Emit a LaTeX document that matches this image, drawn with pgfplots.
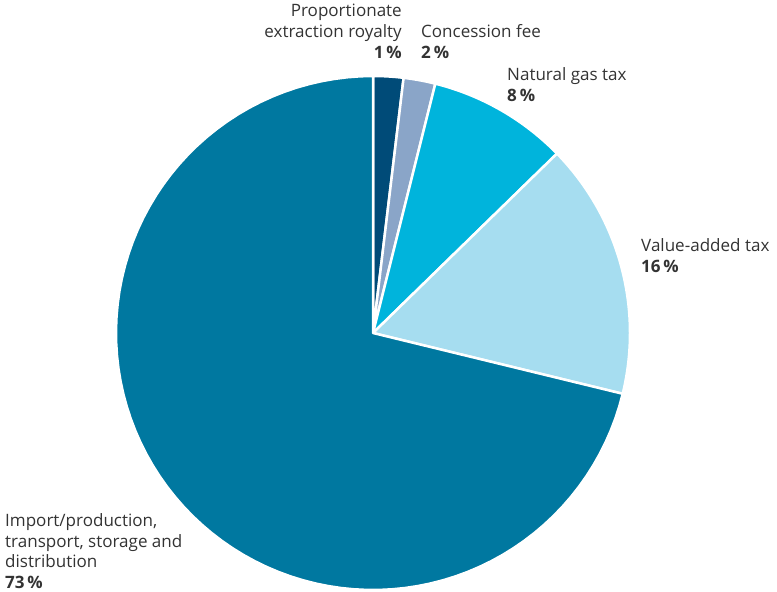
\documentclass[border=0pt]{standalone}
\usepackage{pgfplots}
\pgfplotsset{compat=1.18}
\usepackage{fontspec}
\setmainfont{Open Sans}
\definecolor{cImport}{HTML}{0078A0}
\definecolor{cRoyal}{HTML}{004B78}
\definecolor{cConc}{HTML}{8AA5C8}
\definecolor{cGas}{HTML}{00B4DC}
\definecolor{cVat}{HTML}{A6DDF0}
\definecolor{txt}{HTML}{333333}
% shares (%): royalty 1.9, concession 2.0, gas 8.8, VAT 16.1, import 71.2
% cumulative from 12 o'clock, clockwise -> angles 90 - 3.6*cum
\begin{document}
\begin{tikzpicture}
\begin{axis}[scale only axis, width=777bp, height=592bp,
  xmin=0, xmax=777, ymin=0, ymax=592, hide axis, clip=false]
\path (rel axis cs:0,0) rectangle (rel axis cs:1,1);
\pgfplotsset{wedge/.style={draw=white, line width=2.5bp, line join=round, samples=90, no marks}}
\addplot[wedge, fill=cRoyal, domain=83.16:90] ({373+257*cos(x)},{259+257*sin(x)}) -- (axis cs:373,259) -- cycle;
\addplot[wedge, fill=cConc, domain=75.96:83.16] ({373+257*cos(x)},{259+257*sin(x)}) -- (axis cs:373,259) -- cycle;
\addplot[wedge, fill=cGas, domain=44.28:75.96] ({373+257*cos(x)},{259+257*sin(x)}) -- (axis cs:373,259) -- cycle;
\addplot[wedge, fill=cVat, domain=-13.68:44.28] ({373+257*cos(x)},{259+257*sin(x)}) -- (axis cs:373,259) -- cycle;
\addplot[wedge, fill=cImport, domain=-270:-13.68] ({373+257*cos(x)},{259+257*sin(x)}) -- (axis cs:373,259) -- cycle;
\tikzset{lab/.style={inner sep=0pt, text=txt, font=\fontsize{17.1}{21}\selectfont}}
\node[lab, anchor=north east, align=right] at (axis cs:402,588) {Proportionate\\extraction royalty\\\textbf{1\,\%}};
\node[lab, anchor=north west, align=left] at (axis cs:421,568) {Concession fee\\\textbf{2\,\%}};
\node[lab, anchor=north west, align=left] at (axis cs:507,525) {Natural gas tax\\\textbf{8\,\%}};
\node[lab, anchor=north west, align=left] at (axis cs:641,354) {Value-added tax\\\textbf{16\,\%}};
\node[lab, anchor=north west, align=left] at (axis cs:5,79) {Import/production,\\transport, storage and\\distribution\\\textbf{73\,\%}};
\end{axis}
\end{tikzpicture}
\end{document}
